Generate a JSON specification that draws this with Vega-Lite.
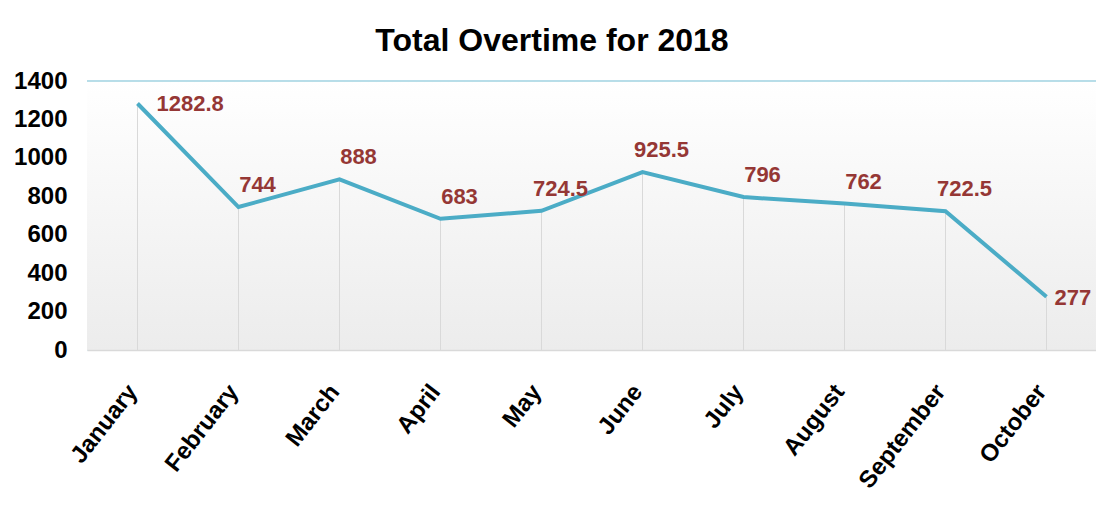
{
  "$schema": "https://vega.github.io/schema/vega-lite/v6.json",
  "width": 1010,
  "height": 269,
  "autosize": {"type": "none"},
  "padding": {"left": 87, "top": 81, "right": 0, "bottom": 156},
  "background": "white",
  "config": {
    "view": {"stroke": null},
    "font": "Liberation Sans"
  },
  "title": {
    "text": "Total Overtime for 2018",
    "fontSize": 32,
    "fontWeight": "bold",
    "color": "black",
    "dx": -40,
    "offset": 11
  },
  "data": {
    "values": [
      {"month": "January", "hours": 1282.8},
      {"month": "February", "hours": 744},
      {"month": "March", "hours": 888},
      {"month": "April", "hours": 683},
      {"month": "May", "hours": 724.5},
      {"month": "June", "hours": 925.5},
      {"month": "July", "hours": 796},
      {"month": "August", "hours": 762},
      {"month": "September", "hours": 722.5},
      {"month": "October", "hours": 277}
    ]
  },
  "layer": [
    {
      "mark": {
        "type": "rect",
        "color": {
          "gradient": "linear",
          "x1": 0, "y1": 0, "x2": 0, "y2": 1,
          "stops": [
            {"offset": 0, "color": "#ffffff"},
            {"offset": 1, "color": "#ececec"}
          ]
        }
      },
      "encoding": {
        "x": {
          "field": "month",
          "type": "ordinal",
          "sort": null,
          "scale": {"type": "band", "paddingInner": 0, "paddingOuter": 0},
          "axis": {
            "title": null,
            "labelAngle": -52,
            "labelAlign": "right",
            "labelBaseline": "top",
            "labelFontSize": 24,
            "labelFontWeight": "bold",
            "labelColor": "black",
            "ticks": false,
            "domain": true,
            "domainColor": "#d9d9d9",
            "domainWidth": 1.5,
            "labelPadding": 30,
            "labelOffset": -14,
            "grid": false
          }
        },
        "y": {
          "datum": 1400,
          "type": "quantitative",
          "title": null,
          "scale": {"domain": [0, 1400], "nice": false},
          "axis": {
            "values": [0, 200, 400, 600, 800, 1000, 1200, 1400],
            "tickCount": 8,
            "format": "d",
            "labelOverlap": false,
            "labelFontSize": 24,
            "labelFontWeight": "bold",
            "labelColor": "black",
            "labelBaseline": "middle",
            "domain": true,
            "domainColor": "#b7dde8",
            "domainWidth": 1,
            "ticks": false,
            "grid": false,
            "labelPadding": 20,
            "title": null
          }
        },
        "y2": {"datum": 0}
      }
    },
    {
      "mark": {"type": "rule", "color": "#b7dde8", "strokeWidth": 1},
      "encoding": {
        "y": {"datum": 1400, "type": "quantitative", "title": null}
      }
    },
    {
      "mark": {"type": "rule", "color": "#d9d9d9", "strokeWidth": 1},
      "encoding": {
        "x": {"field": "month", "type": "ordinal", "sort": null, "title": null},
        "y": {"field": "hours", "type": "quantitative", "title": null},
        "y2": {"datum": 0}
      }
    },
    {
      "mark": {"type": "line", "color": "#4bacc6", "strokeWidth": 4},
      "encoding": {
        "x": {"field": "month", "type": "ordinal", "sort": null, "title": null},
        "y": {"field": "hours", "type": "quantitative", "title": null}
      }
    },
    {
      "transform": [{"filter": "datum.month !== 'January' && datum.month !== 'October'"}],
      "mark": {"type": "text", "color": "#953735", "fontSize": 22, "fontWeight": "bold", "align": "center", "baseline": "middle", "dx": 19, "dy": -22},
      "encoding": {
        "x": {"field": "month", "type": "ordinal", "sort": null, "title": null},
        "y": {"field": "hours", "type": "quantitative", "title": null},
        "text": {"field": "hours", "type": "quantitative"}
      }
    },
    {
      "transform": [{"filter": "datum.month === 'January'"}],
      "mark": {"type": "text", "color": "#953735", "fontSize": 22, "fontWeight": "bold", "align": "left", "baseline": "middle", "dx": 19, "dy": 0},
      "encoding": {
        "x": {"field": "month", "type": "ordinal", "sort": null, "title": null},
        "y": {"field": "hours", "type": "quantitative", "title": null},
        "text": {"field": "hours", "type": "quantitative"}
      }
    },
    {
      "transform": [{"filter": "datum.month === 'October'"}],
      "mark": {"type": "text", "color": "#953735", "fontSize": 22, "fontWeight": "bold", "align": "left", "baseline": "middle", "dx": 8, "dy": 1},
      "encoding": {
        "x": {"field": "month", "type": "ordinal", "sort": null, "title": null},
        "y": {"field": "hours", "type": "quantitative", "title": null},
        "text": {"field": "hours", "type": "quantitative"}
      }
    }
  ]
}
